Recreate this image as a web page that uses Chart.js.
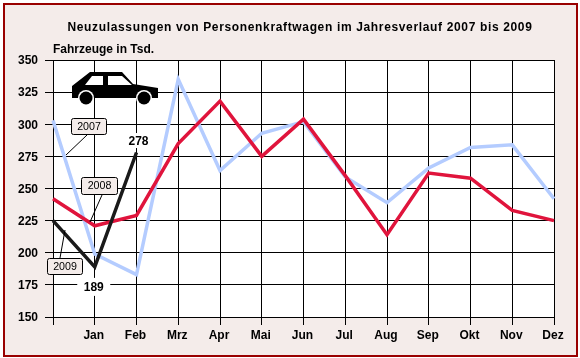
<!DOCTYPE html>
<html lang="de">
<head>
    <meta charset="UTF-8">
    <title>Neuzulassungen</title>
    <script src="https://cdn.jsdelivr.net/npm/chart.js"></script>
    <style>
        html, body { margin: 0; padding: 0; background: #fff; }
        #wrap { width: 580px; height: 358px; position: relative; }
    </style>
</head>
<body>
<div id="wrap"><canvas id="chart" width="580" height="358"></canvas></div>
<script>
const months = ['', 'Jan', 'Feb', 'Mrz', 'Apr', 'Mai', 'Jun', 'Jul', 'Aug', 'Sep', 'Okt', 'Nov', 'Dez'];
const values2007 = [303, 199, 183, 335, 264, 293, 302, 259, 239, 266, 282, 284, 242];
const values2008 = [242, 221, 229, 285, 318, 275, 304, 260, 214, 262, 258, 233, 225];
const values2009 = [225, 189, 278];
const yTicks = [150, 175, 200, 225, 250, 275, 300, 325, 350];

const FONT = '"Liberation Sans", Arial, sans-serif';

// frame + panel behind the plot
const framePlugin = {
    id: 'frame',
    beforeDraw(chart) {
        const c = chart.ctx;
        c.save();
        c.fillStyle = '#f4ecea';
        c.fillRect(3, 3, 575, 354);
        c.strokeStyle = '#990000';
        c.lineWidth = 2;
        c.strokeRect(4, 4, 573, 352);
        const a = chart.chartArea;
        c.fillStyle = '#fff';
        c.fillRect(a.left, a.top, a.right - a.left, a.bottom - a.top);
        c.restore();
    }
};

function drawCar(c) {
    c.save();
    c.fillStyle = '#000';
    c.beginPath();
    c.moveTo(72, 98); c.lineTo(72, 86); c.lineTo(90, 72); c.lineTo(122, 72);
    c.lineTo(133, 84); c.lineTo(158, 88); c.lineTo(158, 98);
    c.closePath();
    c.fill();
    c.fillStyle = '#fff';
    c.beginPath();
    c.moveTo(85, 85); c.lineTo(92, 76); c.lineTo(103, 76); c.lineTo(103, 85); c.closePath();
    c.moveTo(108, 76); c.lineTo(122, 76); c.lineTo(132, 85); c.lineTo(108, 85); c.closePath();
    c.fill();
    [86, 144].forEach(x => {
        c.fillStyle = '#fff';
        c.beginPath(); c.arc(x, 98, 8, 0, Math.PI * 2); c.fill();
        c.fillStyle = '#000';
        c.beginPath(); c.arc(x, 98, 6.5, 0, Math.PI * 2); c.fill();
    });
    c.restore();
}

// year tags with leader lines and the two value labels
const tags = [
    { text: '2007', box: [71, 118, 35, 16], from: [87, 135], to: [66, 155] },
    { text: '2008', box: [81, 177, 36, 17], from: [102, 195], to: [90, 222] },
    { text: '2009', box: [47, 258, 35, 16], from: [60, 258], to: [65, 230] }
];
const valueLabels = [
    { data: values2009, index: 2, text: '278', dx: 2, dy: -12, w: 22, h: 15 },
    { data: values2009, index: 1, text: '189', dx: -1, dy: 20, w: 33, h: 18 }
];

const annotatePlugin = {
    id: 'annotate',
    afterDraw(chart) {
        const c = chart.ctx;
        const x = chart.scales.x, y = chart.scales.y;
        drawCar(c);
        c.save();
        tags.forEach(t => {
            c.strokeStyle = '#000';
            c.lineWidth = 1;
            c.beginPath();
            c.moveTo(t.from[0], t.from[1]);
            c.lineTo(t.to[0], t.to[1]);
            c.stroke();
            c.fillStyle = '#f4ecea';
            c.beginPath();
            c.roundRect(t.box[0] + 0.5, t.box[1] + 0.5, t.box[2], t.box[3], 2);
            c.fill();
            c.stroke();
            c.fillStyle = '#000';
            c.font = '10.67px ' + FONT;
            c.textAlign = 'center';
            c.textBaseline = 'middle';
            c.fillText(t.text, t.box[0] + t.box[2] / 2 + 0.5, t.box[1] + t.box[3] / 2 + 1);
        });
        valueLabels.forEach(l => {
            const px = x.getPixelForValue(l.index) + l.dx;
            const py = y.getPixelForValue(l.data[l.index]) + l.dy;
            c.fillStyle = '#fff';
            c.fillRect(px - l.w / 2, py - l.h / 2, l.w, l.h);
            c.fillStyle = '#000';
            c.font = 'bold 12px ' + FONT;
            c.textAlign = 'center';
            c.textBaseline = 'middle';
            c.fillText(l.text, px, py + 1);
        });
        // chart headings
        c.fillStyle = '#000';
        c.textBaseline = 'alphabetic';
        c.font = 'bold 12px ' + FONT;
        c.textAlign = 'center';
        c.letterSpacing = '0.65px';
        c.fillText('Neuzulassungen von Personenkraftwagen im Jahresverlauf 2007 bis 2009', 300, 31);
        c.textAlign = 'left';
        c.letterSpacing = '0px';
        c.fillText('Fahrzeuge in Tsd.', 53, 53);
        c.restore();
    }
};

new Chart(document.getElementById('chart'), {
    type: 'line',
    data: {
        labels: months,
        datasets: [
            { label: '2009', data: values2009, borderColor: '#1a1a1a', order: 1 },
            { label: '2008', data: values2008, borderColor: '#e0143c', order: 2 },
            { label: '2007', data: values2007, borderColor: '#b4ccff', order: 3 }
        ]
    },
    options: {
        responsive: false,
        animation: false,
        layout: { padding: { top: 60, right: 26, bottom: 0, left: 0 } },
        elements: {
            point: { radius: 0 },
            line: { borderWidth: 3.5, tension: 0, borderJoinStyle: 'miter' }
        },
        plugins: { legend: { display: false }, tooltip: { enabled: false } },
        scales: {
            x: {
                offset: false,
                afterFit(scale) { scale.height = 41; },
                grid: { color: '#000', lineWidth: 1, tickLength: 8, drawTicks: true },
                border: { color: '#000' },
                ticks: { color: '#000', font: { family: FONT, size: 12, weight: 'bold' }, maxRotation: 0, autoSkip: false, padding: 3, labelOffset: -1 }
            },
            y: {
                min: 150,
                max: 350,
                afterFit(scale) { scale.width = 53; },
                afterBuildTicks(scale) { scale.ticks = yTicks.map(v => ({ value: v })); },
                grid: { color: '#000', lineWidth: 1, tickLength: 8 },
                border: { color: '#000' },
                ticks: { color: '#000', font: { family: FONT, size: 12, weight: 'bold' }, padding: 7, labelOffset: 1 }
            }
        }
    },
    plugins: [framePlugin, annotatePlugin]
});
</script>
</body>
</html>
